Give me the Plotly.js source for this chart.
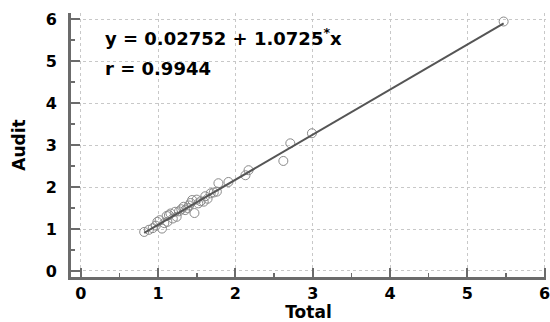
<!DOCTYPE html>
<html>
<head>
<meta charset="utf-8">
<script src="https://cdn.plot.ly/plotly-3.0.1.min.js"></script>
<style>html,body{margin:0;padding:0;background:#fff;}#chart{width:550px;height:322px;}</style>
</head>
<body>
<div id="chart"></div>
<script>
const total = [0.82, 0.88, 0.93, 0.97, 0.99, 1.02, 1.05, 1.08, 1.11, 1.12, 1.14, 1.16, 1.19, 1.22, 1.24, 1.27, 1.30, 1.33, 1.35, 1.38, 1.40, 1.42, 1.44, 1.47, 1.50, 1.52, 1.55, 1.59, 1.61, 1.64, 1.68, 1.72, 1.76, 1.78, 1.91, 2.13, 2.17, 2.62, 2.71, 2.99, 5.47];
const audit = [0.93, 0.98, 1.02, 1.08, 1.17, 1.21, 1.01, 1.14, 1.31, 1.17, 1.33, 1.37, 1.25, 1.41, 1.29, 1.42, 1.47, 1.53, 1.45, 1.50, 1.56, 1.62, 1.69, 1.38, 1.70, 1.61, 1.66, 1.65, 1.78, 1.72, 1.85, 1.87, 1.89, 2.09, 2.12, 2.28, 2.40, 2.62, 3.04, 3.28, 5.94];
const intercept = 0.02752;
const slope = 1.0725;
const rValue = 0.9944;
const tickVals = [0, 1, 2, 3, 4, 5, 6];

const xMin = Math.min(...total), xMax = Math.max(...total);
const fitX = [xMin, xMax];
const fitY = fitX.map(v => intercept + slope * v);

const fam = 'DejaVu Sans, sans-serif';
const tickFont = {family: fam, size: 16, color: '#000', weight: 700};
const titleFont = {family: fam, size: 17, color: '#000', weight: 700};
const annFont = {family: fam, size: 18, color: '#000', weight: 700};

const axisCommon = {
  showline: true, linecolor: '#6b6b6b', linewidth: 3,
  showgrid: true, gridcolor: '#c8c8c8', gridwidth: 1, griddash: 'dot',
  zeroline: false,
  ticks: 'inside', ticklen: 9, tickwidth: 2, tickcolor: '#6b6b6b',
  tickvals: tickVals, tickfont: tickFont, ticklabeloverflow: 'allow',
  minor: {dtick: 0.5, ticks: 'inside', ticklen: 4, tickwidth: 1.5, tickcolor: '#6b6b6b', showgrid: false},
  mirror: false, fixedrange: true
};

const data = [
  {x: total, y: audit, type: 'scatter', mode: 'markers',
   marker: {symbol: 'circle-open', size: 9, color: '#8a8a8a', line: {width: 1, color: '#8a8a8a'}},
   hoverinfo: 'skip', showlegend: false},
  {x: fitX, y: fitY, type: 'scatter', mode: 'lines',
   line: {color: '#555555', width: 2}, hoverinfo: 'skip', showlegend: false}
];

const layout = {
  width: 550, height: 322,
  margin: {l: 71, r: 4, t: 13, b: 45},
  paper_bgcolor: '#fff', plot_bgcolor: '#fff',
  xaxis: Object.assign({}, axisCommon, {range: [-0.127, 6.018], ticklabelstandoff: 0,
    title: {text: 'Total', font: titleFont, standoff: 3}}),
  yaxis: Object.assign({}, axisCommon, {range: [-0.143, 6.143], ticklabelstandoff: 8,
    title: {text: 'Audit', font: titleFont, standoff: 16}}),
  annotations: [
    {xref: 'paper', yref: 'paper', x: 0.068, y: 0.909, xanchor: 'left', yanchor: 'middle', showarrow: false,
     text: 'y = ' + intercept + ' + ' + slope + '<sup>*</sup>x', font: annFont},
    {xref: 'paper', yref: 'paper', x: 0.068, y: 0.788, xanchor: 'left', yanchor: 'middle', showarrow: false,
     text: 'r = ' + rValue, font: annFont}
  ]
};

Plotly.newPlot('chart', data, layout, {displayModeBar: false, staticPlot: true});
</script>
</body>
</html>
